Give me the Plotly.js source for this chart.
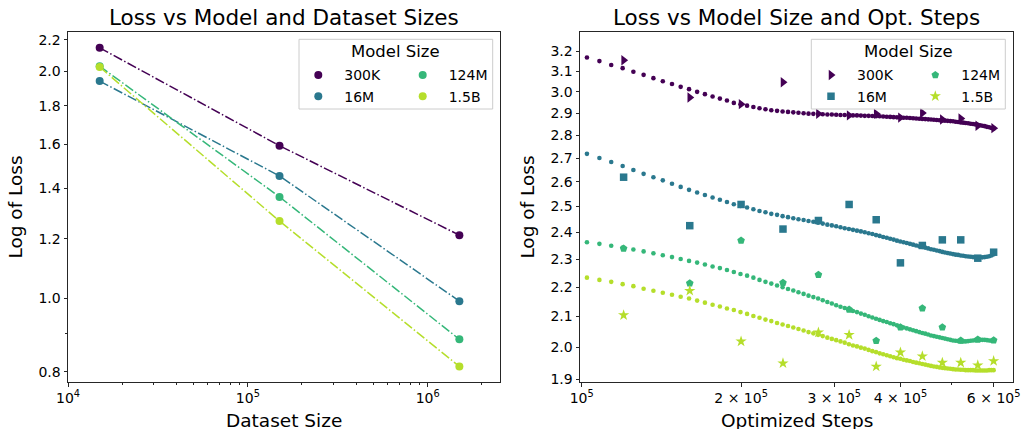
<!DOCTYPE html>
<html><head><meta charset="utf-8">
<script src="https://cdn.plot.ly/plotly-3.0.1.min.js"></script>
<style>html,body{margin:0;padding:0;background:#fff}#chart{width:1025px;height:429px}</style>
</head><body><div id="chart"></div>
<script>
// ---------- data ----------
const modelSizes = ['300K', '16M', '124M', '1.5B'];
const modelColors = ['#440154', '#2a788e', '#35b779', '#b5de2b'];

// Left panel: loss vs dataset size
const datasetSizes = [15000, 150000, 1500000];
const dsLoss300K = [2.147, 1.593, 1.213];
const dsLoss16M  = [1.940, 1.453, 0.992];
const dsLoss124M = [2.030, 1.363, 0.883];
const dsLoss15B  = [2.025, 1.266, 0.813];

// Right panel: measured loss vs optimized steps
const optSteps = [120000, 160000, 200000, 240000, 280000, 320000, 360000, 400000, 440000, 480000, 520000, 560000, 600000];
const optLoss300K = [3.153, 2.972, 2.941, 3.045, 2.896, 2.889, 2.896, 2.879, 2.900, 2.870, 2.875, 2.842, 2.831];
const optLoss16M  = [2.619, 2.425, 2.508, 2.412, 2.445, 2.508, 2.448, 2.286, 2.350, 2.371, 2.371, 2.303, 2.325];
const optLoss124M = [2.339, 2.213, 2.369, 2.215, 2.243, 2.123, 2.020, 2.064, 2.127, 2.064, 2.021, 2.024, 2.022];
const optLoss15B  = [2.104, 2.187, 2.018, 1.949, 2.047, 2.039, 1.939, 1.983, 1.971, 1.951, 1.951, 1.943, 1.956];

// Right panel: fitted curves (dots)
const fitSteps = [102300,108000,113700,119500,125200,130900,136600,142300,148100,153800,159500,165200,170900,176700,182400,188100,
193800,199500,205300,211000,216700,222400,228100,233900,239600,245300,251000,256700,262500,268200,273900,279600,285300,291100,296800,
302500,308200,313900,319700,325400,331100,336800,342500,348300,354000,359700,365400,371100,376900,382600,388300,394000,399700,405500,
411200,416900,422600,428300,434100,439800,445500,451200,456900,462700,468400,474100,479800,485500,491300,497000,502700,508400,514100,
519900,525600,531300,537000,542700,548500,554200,559900,565600,571300,577100,582800,588500,594200,600000];
const fit300K = [3.167,3.149,3.130,3.114,3.096,3.081,3.065,3.050,3.037,3.023,3.012,2.999,2.988,2.977,2.967,2.958,
2.947,2.940,2.934,2.928,2.922,2.917,2.913,2.910,2.907,2.905,2.903,2.901,2.899,2.897,2.896,2.895,2.894,2.893,2.893,2.892,2.891,2.891,
2.890,2.889,2.889,2.888,2.887,2.887,2.886,2.885,2.885,2.884,2.883,2.882,2.881,2.880,2.879,2.878,2.878,2.877,2.876,2.875,2.874,2.873,
2.872,2.871,2.870,2.869,2.868,2.867,2.866,2.865,2.864,2.863,2.862,2.860,2.859,2.857,2.856,2.854,2.853,2.851,2.850,2.848,2.846,2.844,
2.842,2.840,2.837,2.835,2.832,2.830];
const fit16M = [2.718,2.700,2.683,2.666,2.649,2.633,2.619,2.606,2.592,2.579,2.567,2.556,2.546,2.536,2.527,2.518,2.509,2.502,2.496,
2.489,2.482,2.477,2.471,2.467,2.462,2.458,2.454,2.450,2.447,2.443,2.440,2.436,2.433,2.429,2.426,2.423,2.419,2.415,2.412,2.409,2.406,
2.403,2.400,2.396,2.393,2.389,2.386,2.382,2.379,2.375,2.372,2.368,2.365,2.362,2.359,2.356,2.353,2.350,2.347,2.344,2.342,2.339,2.336,
2.334,2.331,2.329,2.326,2.324,2.322,2.320,2.318,2.316,2.315,2.313,2.312,2.310,2.309,2.308,2.307,2.306,2.306,2.306,2.306,2.307,2.308,
2.310,2.313,2.317];
const fit124M = [2.362,2.356,2.349,2.342,2.335,2.328,2.321,2.314,2.307,2.300,2.293,2.287,2.280,2.273,2.267,2.260,2.253,2.246,2.240,
2.233,2.225,2.218,2.212,2.205,2.199,2.193,2.188,2.182,2.176,2.170,2.165,2.160,2.154,2.148,2.143,2.137,2.132,2.128,2.123,2.118,2.114,
2.109,2.105,2.100,2.096,2.092,2.088,2.084,2.081,2.077,2.074,2.070,2.066,2.063,2.060,2.057,2.054,2.051,2.048,2.045,2.043,2.040,2.037,
2.035,2.033,2.031,2.029,2.027,2.025,2.023,2.021,2.020,2.019,2.018,2.018,2.018,2.019,2.020,2.021,2.022,2.023,2.023,2.023,2.023,2.022,
2.021,2.020,2.020];
const fit15B = [2.233,2.225,2.218,2.210,2.203,2.194,2.187,2.180,2.173,2.166,2.160,2.153,2.146,2.139,2.133,2.126,2.121,2.114,2.108,
2.101,2.095,2.089,2.084,2.078,2.073,2.068,2.063,2.058,2.053,2.048,2.044,2.039,2.035,2.030,2.026,2.022,2.018,2.014,2.009,2.005,2.002,
1.998,1.995,1.991,1.987,1.984,1.980,1.977,1.974,1.971,1.968,1.965,1.963,1.960,1.958,1.956,1.953,1.951,1.949,1.947,1.945,1.943,1.941,
1.939,1.938,1.936,1.935,1.934,1.933,1.932,1.931,1.930,1.930,1.929,1.929,1.928,1.928,1.928,1.928,1.927,1.927,1.927,1.927,1.927,1.927,
1.928,1.928,1.928];

// tick labels
const leftXTicks = [1e4, 1e5, 1e6];
const leftXTickText = ['10<sup>4</sup>', '10<sup>5</sup>', '10<sup>6</sup>'];
const leftYTicks = [0.8, 1.0, 1.2, 1.4, 1.6, 1.8, 2.0, 2.2];
const leftYTickText = ['0.8', '1.0', '1.2', '1.4', '1.6', '1.8', '2.0', '2.2'];
const rightXTicks = [1e5, 2e5, 3e5, 4e5, 6e5];
const rightXTickText = ['10<sup>5</sup>', '2 × 10<sup>5</sup>', '3 × 10<sup>5</sup>', '4 × 10<sup>5</sup>', '6 × 10<sup>5</sup>'];
const rightYTicks = [1.9, 2.0, 2.1, 2.2, 2.3, 2.4, 2.5, 2.6, 2.7, 2.8, 2.9, 3.0, 3.1, 3.2];
const rightYTickText = ['1.9', '2.0', '2.1', '2.2', '2.3', '2.4', '2.5', '2.6', '2.7', '2.8', '2.9', '3.0', '3.1', '3.2'];
const optSymbols = ['triangle-right', 'square', 'pentagon', 'star'];

// ---------- build ----------
const dsLoss = [dsLoss300K, dsLoss16M, dsLoss124M, dsLoss15B];
const optLoss = [optLoss300K, optLoss16M, optLoss124M, optLoss15B];
const fitLoss = [fit300K, fit16M, fit124M, fit15B];

const W = 1025, H = 429;
const M = {l: 68, r: 12, t: 32, b: 47};
const PW = W - M.l - M.r, PH = H - M.t - M.b;
const px = x => (x - M.l) / PW;
const py = y => (H - M.b - y) / PH;

const FONT = 'DejaVu Sans, Verdana, sans-serif';
const INK = '#262626';

const traces = [];
modelSizes.forEach((name, i) => {
  traces.push({x: datasetSizes, y: dsLoss[i], mode: 'lines', xaxis: 'x', yaxis: 'y',
    line: {color: modelColors[i], width: 1.5, dash: '9.6px,2.4px,1.5px,2.4px'},
    showlegend: false, hoverinfo: 'skip'});
  traces.push({x: datasetSizes, y: dsLoss[i], mode: 'markers', xaxis: 'x', yaxis: 'y', name: name,
    marker: {color: modelColors[i], size: 8}, legend: i < 2 ? 'legend' : 'legend2'});
});
modelSizes.forEach((name, i) => {
  traces.push({x: fitSteps, y: fitLoss[i], mode: 'markers', xaxis: 'x2', yaxis: 'y2',
    marker: {color: modelColors[i], size: 4.6}, showlegend: false, hoverinfo: 'skip'});
});
const symSize = [9, 7.5, 8, 8.5];
modelSizes.forEach((name, i) => {
  traces.push({x: optSteps, y: optLoss[i], mode: 'markers', xaxis: 'x2', yaxis: 'y2', name: name,
    marker: {color: modelColors[i], size: symSize[i], symbol: optSymbols[i]},
    legend: i < 2 ? 'legend3' : 'legend4'});
});

const axisCommon = {
  showline: true, mirror: true, linecolor: INK, linewidth: 1,
  ticks: 'outside', ticklen: 3.5, tickwidth: 0.9, tickcolor: INK,
  showgrid: false, zeroline: false, tickfont: {family: FONT, size: 14, color: '#000'},
  tickmode: 'array'
};
const legendCommon = {
  bgcolor: 'rgba(0,0,0,0)', borderwidth: 0, font: {family: FONT, size: 14, color: '#000'},
  itemwidth: 42, tracegroupgap: 0, xanchor: 'left', yanchor: 'middle', orientation: 'v'
};
const rowMid = py((75 + 96.7) / 2);
const titleFont = {family: FONT, size: 18.5, color: '#000'};

const layout = {
  width: W, height: H, margin: M, paper_bgcolor: '#fff', plot_bgcolor: '#fff',
  font: {family: FONT, color: '#000'},
  xaxis: Object.assign({}, axisCommon, {type: 'log', domain: [0, px(500)], anchor: 'y', range: [4, 6.402],
    tickvals: leftXTicks, ticktext: leftXTickText,
    minor: {tickmode: 'array', tickvals: [2e4,3e4,4e4,5e4,6e4,7e4,8e4,9e4,2e5,3e5,4e5,5e5,6e5,7e5,8e5,9e5,2e6],
      ticks: 'outside', ticklen: 2, tickwidth: 0.7, tickcolor: INK, showgrid: false}}),
  yaxis: Object.assign({}, axisCommon, {type: 'log', domain: [0, 1], anchor: 'x', range: [Math.log10(0.7753), Math.log10(2.253)],
    tickvals: leftYTicks, ticktext: leftYTickText,
    minor: {tickmode: 'array', tickvals: [0.9], ticks: 'outside', ticklen: 2, tickwidth: 0.7, tickcolor: INK, showgrid: false},
    title: {text: 'Log of Loss', font: titleFont, standoff: 10}}),
  xaxis2: Object.assign({}, axisCommon, {type: 'log', domain: [px(580), 1], anchor: 'y2', range: [Math.log10(99260), Math.log10(652700)],
    tickvals: rightXTicks, ticktext: rightXTickText,
    minor: {tickmode: 'array', tickvals: [5e5], ticks: 'outside', ticklen: 2, tickwidth: 0.7, tickcolor: INK, showgrid: false}}),
  yaxis2: Object.assign({}, axisCommon, {type: 'log', domain: [0, 1], anchor: 'x2', range: [Math.log10(1.892), Math.log10(3.298)],
    tickvals: rightYTicks, ticktext: rightYTickText,
    title: {text: 'Log of Loss', font: titleFont, standoff: 10}}),
  legend: Object.assign({}, legendCommon, {x: px(318.3 - 26), y: rowMid}),
  legend2: Object.assign({}, legendCommon, {x: px(422.7 - 26), y: rowMid}),
  legend3: Object.assign({}, legendCommon, {x: px(831 - 26), y: rowMid}),
  legend4: Object.assign({}, legendCommon, {x: px(935.3 - 26), y: rowMid}),
  shapes: [
    {type: 'rect', xref: 'paper', yref: 'paper', x0: px(299), x1: px(492.7), y0: py(109), y1: py(39.3),
      line: {color: '#cccccc', width: 1}, fillcolor: 'rgba(255,255,255,0.8)', layer: 'above'},
    {type: 'rect', xref: 'paper', yref: 'paper', x0: px(811.3), x1: px(1005.3), y0: py(109), y1: py(39.3),
      line: {color: '#cccccc', width: 1}, fillcolor: 'rgba(255,255,255,0.8)', layer: 'above'}
  ],
  annotations: [
    {text: 'Loss vs Model and Dataset Sizes', xref: 'paper', yref: 'paper', x: px((68 + 500) / 2), y: py(17.5),
      xanchor: 'center', yanchor: 'middle', showarrow: false, font: {family: FONT, size: 21.5, color: '#000'}},
    {text: 'Loss vs Model Size and Opt. Steps', xref: 'paper', yref: 'paper', x: px((580 + 1013) / 2), y: py(17.5),
      xanchor: 'center', yanchor: 'middle', showarrow: false, font: {family: FONT, size: 21.5, color: '#000'}},
    {text: 'Dataset Size', xref: 'paper', yref: 'paper', x: px((68 + 500) / 2), y: py(420.5),
      xanchor: 'center', yanchor: 'middle', showarrow: false, font: titleFont},
    {text: 'Optimized Steps', xref: 'paper', yref: 'paper', x: px((580 + 1013) / 2), y: py(420.5),
      xanchor: 'center', yanchor: 'middle', showarrow: false, font: titleFont},
    {text: 'Model Size', xref: 'paper', yref: 'paper', x: px((299 + 492.7) / 2), y: py(51.7),
      xanchor: 'center', yanchor: 'middle', showarrow: false, font: {family: FONT, size: 16.5, color: '#000'}},
    {text: 'Model Size', xref: 'paper', yref: 'paper', x: px((811.3 + 1005.3) / 2), y: py(51.7),
      xanchor: 'center', yanchor: 'middle', showarrow: false, font: {family: FONT, size: 16.5, color: '#000'}}
  ]
};

Plotly.newPlot('chart', traces, layout, {displayModeBar: false, responsive: false});
</script>
</body></html>
